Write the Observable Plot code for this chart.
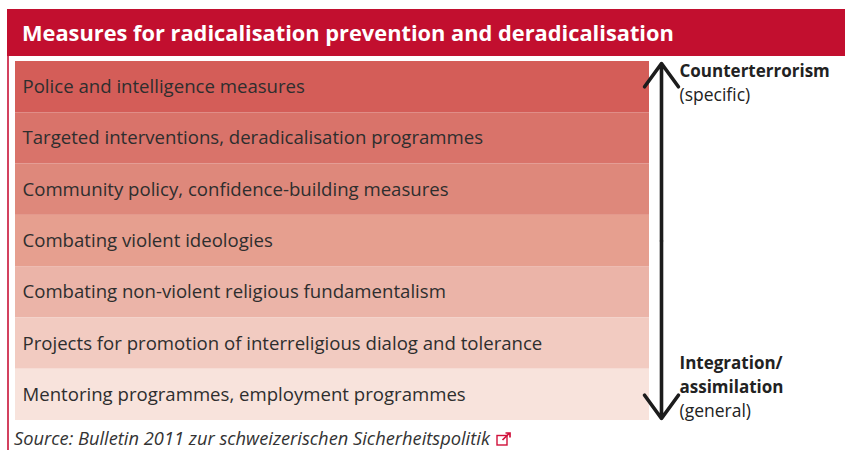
<!DOCTYPE html>
<html>
<head>
<meta charset="utf-8">
<script src="https://cdn.jsdelivr.net/npm/d3@7"></script>
<script src="https://cdn.jsdelivr.net/npm/@observablehq/plot@0.6"></script>
<style>
  html, body { margin: 0; padding: 0; background: #fff; }
  body { width: 845px; height: 450px; position: relative; overflow: hidden; font-family: "Open Sans", sans-serif; }
  #title { position: absolute; left: 7px; top: 9px; width: 838px; height: 47px; background: #c20f2f; color: #fff;
    font-family: "Open Sans", sans-serif; font-weight: 700; font-size: 21.8px; line-height: 47px; box-sizing: border-box; padding-left: 15px; white-space: nowrap; }
  #rule { position: absolute; left: 7px; top: 56px; width: 1.5px; height: 394px; background: #d3415f; }
  #chart { position: absolute; left: 0; top: 56px; }
  #source { position: absolute; left: 14px; top: 427px; font-style: italic; font-size: 18.3px; color: #333; white-space: nowrap; line-height: 22px; }
  #source svg { vertical-align: -1px; margin-left: 6px; }
</style>
</head>
<body>
<div id="title">Measures for radicalisation prevention and deradicalisation</div>
<div id="rule"></div>
<div id="chart"></div>
<div id="source">Source: Bulletin 2011 zur schweizerischen Sicherheitspolitik<svg width="15" height="14" viewBox="0 0 15 14"><rect x="1" y="3.5" width="10" height="9.5" fill="none" stroke="#d0103a" stroke-width="1.4"/><path d="M6.5 8 L13.5 1 M9.5 1 H14 V5.5" fill="none" stroke="#d0103a" stroke-width="1.7"/></svg></div>
<script>
const categories = [
  "Police and intelligence measures",
  "Targeted interventions, deradicalisation programmes",
  "Community policy, confidence-building measures",
  "Combating violent ideologies",
  "Combating non-violent religious fundamentalism",
  "Projects for promotion of interreligious dialog and tolerance",
  "Mentoring programmes, employment programmes"
];
const shades = ["#d45d58", "#d9736a", "#de887b", "#e69f8f", "#ebb4a8", "#f2cbc1", "#f8e3dc"];
const topLabel = "Counterterrorism";
const topSub = "(specific)";
const bottomLabel = "Integration/\nassimilation";
const bottomSub = "(general)";

const rows = categories.map((label, i) => ({label, i, fill: shades[i]}));
const n = categories.length;

const chart = Plot.plot({
  width: 845,
  height: 368,
  marginLeft: 15,
  marginRight: 196,
  marginTop: 5,
  marginBottom: 4,
  x: {domain: [0, 1], axis: null},
  y: {domain: [0, n], reverse: true, axis: null},
  color: {type: "identity"},
  style: {fontFamily: "'Open Sans', sans-serif", background: "transparent", overflow: "visible"},
  marks: [
    Plot.rect(rows, {x1: 0, x2: 1, y1: "i", y2: d => d.i + 1, fill: "fill"}),
    Plot.text(rows, {x: 0, y: d => d.i + 0.5, text: "label", textAnchor: "start", dx: 7, fill: "#2e2e2e", fontSize: 18.6}),
    Plot.arrow([{a: 0, b: n}], {x1: 1, x2: 1, y1: d => d.b / 2, y2: "a", dx: 12, stroke: "#1c1c1c", strokeWidth: 3.6, headLength: 12, headAngle: 72, strokeLinejoin: "miter", insetEnd: 2}),
    Plot.arrow([{a: 0, b: n}], {x1: 1, x2: 1, y1: d => d.b / 2, y2: "b", dx: 12, stroke: "#1c1c1c", strokeWidth: 3.6, headLength: 12, headAngle: 72, strokeLinejoin: "miter", insetEnd: 2}),
    Plot.text([topLabel], {x: 1, y: 0, text: d => d, dx: 30, dy: 15, textAnchor: "start", lineAnchor: "bottom", fontWeight: "bold", fontSize: 17, fill: "#222"}),
    Plot.text([topSub], {x: 1, y: 0, text: d => d, dx: 30, dy: 39, textAnchor: "start", lineAnchor: "bottom", fontSize: 17.5, fill: "#222"}),
    Plot.text([bottomLabel], {x: 1, y: n, text: d => d, dx: 30, dy: -28, textAnchor: "start", lineAnchor: "bottom", lineHeight: 24 / 17, fontWeight: "bold", fontSize: 17, fill: "#222"}),
    Plot.text([bottomSub], {x: 1, y: n, text: d => d, dx: 30, dy: -4, textAnchor: "start", lineAnchor: "bottom", fontSize: 17.5, fill: "#222"})
  ]
});
document.getElementById("chart").appendChild(chart);
</script>
</body>
</html>
